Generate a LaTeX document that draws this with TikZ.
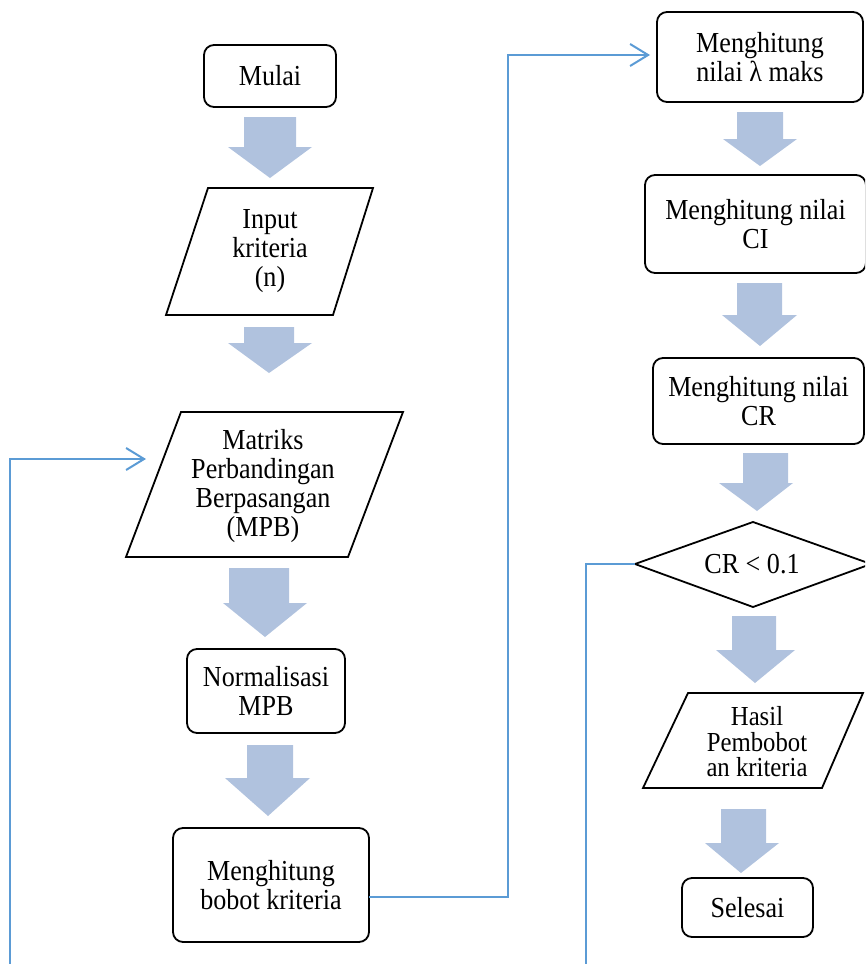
\documentclass[tikz,border=0pt]{standalone}
\usepackage{fontspec}
\setmainfont[FakeStretch=0.9]{Liberation Serif}
\usetikzlibrary{arrows.meta}
\definecolor{arrowfill}{RGB}{176,194,222}
\definecolor{linkblue}{RGB}{91,155,213}
% block arrow: shaft left, shaft right, shaft top, head base, head left, head right, tip
\newcommand\fatarrow[7]{%
  \fill[arrowfill] (#1,#3) -- (#2,#3) -- (#2,#4) -- (#6,#4) -- (#7) -- (#5,#4) -- (#1,#4) -- cycle;}
\begin{document}
\begin{tikzpicture}[x=1pt,y=-1pt,
  txt/.style={font=\fontsize{29}{29}\selectfont, align=center, inner sep=0pt},
  procbox/.style={txt, draw=black, line width=1.8pt, rounded corners=10pt},
  outline/.style={draw=black, line width=1.8pt, line join=miter},
  link/.style={draw=linkblue, line width=2pt,
    -{Straight Barb[length=18pt,width=22pt,line width=2pt]}},
  thinlink/.style={draw=linkblue, line width=1.2pt}]
\useasboundingbox (0,0) rectangle (865,964);
\clip (0,0) rectangle (865,964);

% left column
\node[procbox, minimum width=132pt, minimum height=62pt] (start) at (270,76) {Mulai};
\fatarrow{244}{296}{117}{147}{228}{312}{270,178}

\draw[outline] (208,188) -- (373,188) -- (333,315) -- (166,315) -- cycle;
\node[txt] (input) at (270,251) {Input\\kriteria\\(n)};
\fatarrow{244}{294}{327}{343}{228}{312}{269,373}

\draw[outline] (181,412) -- (403,412) -- (348,557) -- (126,557) -- cycle;
\node[txt] (mpb) at (263,486) {Matriks\\Perbandingan\\Berpasangan\\(MPB)};
\fatarrow{229}{289}{568}{603}{223}{307}{265,637}

\node[procbox, minimum width=158pt, minimum height=84pt] (norm) at (266,691) {Normalisasi\\MPB};
\fatarrow{247}{293}{745}{778}{225}{310}{268,816}

\node[procbox, minimum width=196pt, minimum height=114pt] (bobot) at (271,885) {Menghitung\\bobot kriteria};

% right column
\node[procbox, minimum width=206pt, minimum height=90pt] (lam) at (760,57) {Menghitung\\nilai λ maks};
\fatarrow{737}{783}{112}{139}{723}{797}{760,166}

\node[procbox, minimum width=221pt, minimum height=98pt] (ci) at (755.5,224) {Menghitung nilai\\CI};
\fatarrow{737}{782}{283}{315}{722}{797}{760,346}

\node[procbox, minimum width=211pt, minimum height=86pt] (cr) at (758.5,401) {Menghitung nilai\\CR};
\fatarrow{743}{788}{453}{483}{719}{793}{757,511}

\coordinate (dtop) at (753,522);
\coordinate (dleft) at (635,564);
\coordinate (dbot) at (753,607);
\coordinate (dright) at (871,564);
\draw[outline] (dtop) -- (dright) -- (dbot) -- (dleft) -- cycle;
\node[txt] (dec) at (752,564) {CR < 0.1};
\fatarrow{732}{776}{616}{650}{716}{795}{755,683}

\draw[outline] (688,693) -- (863,693) -- (822,788) -- (643,788) -- cycle;
\node[txt, font=\fontsize{27.5}{25.5}\selectfont] (hasil) at (757,742) {Hasil\\Pembobot\\an kriteria};
\fatarrow{721}{766}{809}{843}{705}{779}{741,873}

\node[procbox, minimum width=131pt, minimum height=59pt] (finish) at (747.5,907.5) {Selesai};

% connectors
\coordinate (loopfoot) at (10,964);
\coordinate (mpbin) at (146,459);
\draw[link] (loopfoot) |- (mpbin);

\coordinate (bobotout) at (369,897);
\coordinate (lamin) at (650,55);
\draw[link] (bobotout) -- (508,897) |- (lamin);

\coordinate (crfoot) at (586,964);
\draw[thinlink] (dleft) -- (586,564) -- (crfoot);
\end{tikzpicture}
\end{document}
